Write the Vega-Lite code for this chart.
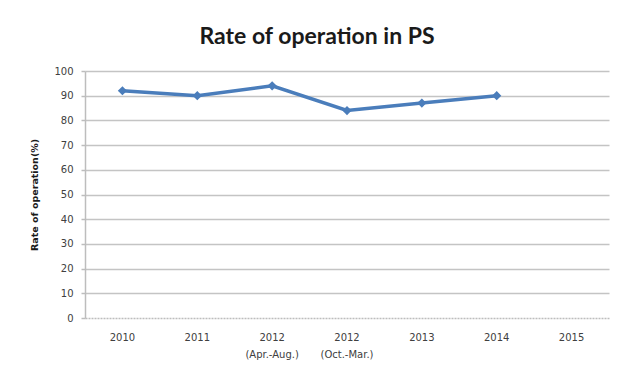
{
  "$schema": "https://vega.github.io/schema/vega-lite/v6.json",
  "width": 524,
  "height": 247,
  "autosize": {"type": "none"},
  "padding": {"left": 85, "top": 71, "right": 18, "bottom": 49},
  "background": "white",
  "title": {
    "text": "Rate of operation in PS",
    "font": "Lato",
    "fontSize": 23,
    "fontWeight": "bold",
    "color": "#1a1a1a",
    "anchor": "middle",
    "dx": -30,
    "offset": 17
  },
  "data": {
    "values": [
      {"period": "2010", "rate": 92},
      {"period": "2011", "rate": 90},
      {"period": "2012|(Apr.-Aug.)", "rate": 94},
      {"period": "2012|(Oct.-Mar.)", "rate": 84},
      {"period": "2013", "rate": 87},
      {"period": "2014", "rate": 90},
      {"period": "2015", "rate": null}
    ]
  },
  "encoding": {
    "x": {
      "field": "period",
      "type": "nominal",
      "sort": null,
      "scale": {
        "type": "band",
        "paddingInner": 0,
        "paddingOuter": 0,
        "domain": ["2010", "2011", "2012|(Apr.-Aug.)", "2012|(Oct.-Mar.)", "2013", "2014", "2015"]
      },
      "axis": {
        "title": null,
        "labelAngle": 0,
        "labelExpr": "split(datum.label, '|')",
        "labelFont": "DejaVu Sans",
        "labelFontSize": 10,
        "labelColor": "#404040",
        "labelPadding": 14,
        "labelLineHeight": 17,
        "ticks": false,
        "domainColor": "#bdbdbd",
        "domainWidth": 1.5,
        "domainDash": [2, 1]
      }
    },
    "y": {
      "field": "rate",
      "type": "quantitative",
      "scale": {"domain": [0, 100], "nice": false},
      "axis": {
        "title": "Rate of operation(%)",
        "titleFont": "DejaVu Sans",
        "titleFontSize": 9.5,
        "titleFontWeight": "bold",
        "titleColor": "#1a1a1a",
        "titlePadding": 14,
        "values": [0, 10, 20, 30, 40, 50, 60, 70, 80, 90, 100],
        "labelFont": "DejaVu Sans",
        "labelFontSize": 10,
        "labelColor": "#404040",
        "labelPadding": 8,
        "tickSize": 4,
        "tickColor": "#bdbdbd",
        "tickWidth": 1.5,
        "domainColor": "#bdbdbd",
        "domainWidth": 1.5,
        "grid": true,
        "gridColor": {
          "condition": {"test": "datum.value === 0", "value": "transparent"},
          "value": "#c4c4c4"
        },
        "gridWidth": 1.6
      }
    }
  },
  "layer": [
    {
      "mark": {"type": "line", "color": "#4a7dbb", "strokeWidth": 3.5},
      "encoding": {}
    },
    {
      "mark": {"type": "point", "shape": "diamond", "filled": true, "color": "#4a7dbb", "size": 85, "opacity": 1},
      "encoding": {}
    }
  ],
  "config": {
    "view": {"stroke": null}
  }
}
